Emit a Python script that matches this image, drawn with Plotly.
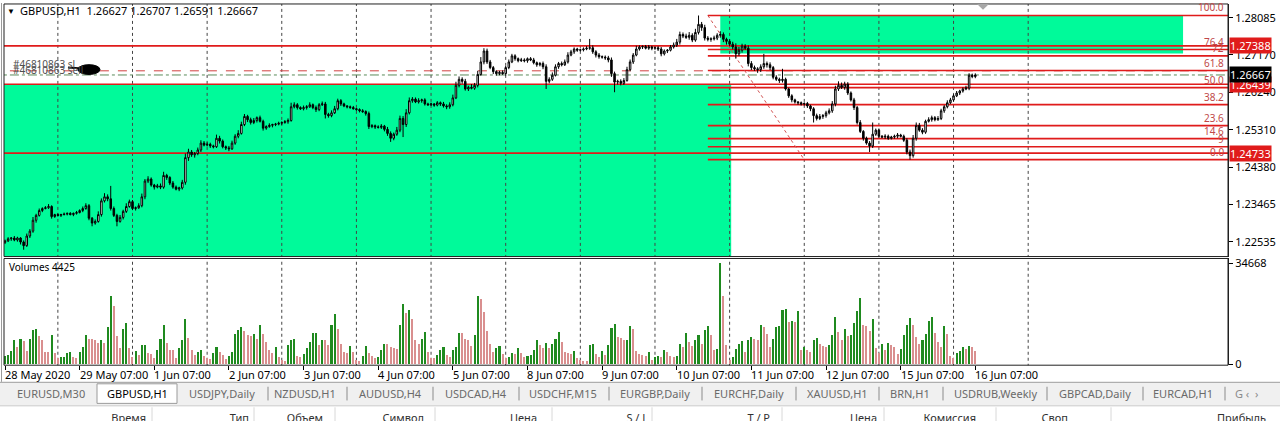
import plotly.graph_objects as go

W, H = 1280, 427
FONT = "Noto Sans"

# ---------------- data ----------------
symbol_header = "GBPUSD,H1  1.26627 1.26707 1.26591 1.26667"
first_open = 1.2252

closes = [
    # 28 May (07:00-23:00)
    1.2256, 1.2261, 1.2263, 1.2258, 1.2263, 1.2253, 1.2244, 1.2268, 1.2280, 1.2307, 1.2319, 1.2331, 1.2336, 1.2338, 1.2341, 1.2316, 1.2321,
    # 29 May
    1.2319, 1.2321, 1.2322, 1.2324, 1.2321, 1.2324, 1.2326, 1.2331, 1.2336, 1.2343, 1.2312, 1.2300, 1.2304, 1.2321, 1.2355, 1.2365, 1.2360, 1.2336, 1.2319, 1.2304, 1.2314, 1.2329, 1.2341, 1.2353,
    # 1 Jun
    1.2336, 1.2338, 1.2343, 1.2365, 1.2404, 1.2409, 1.2394, 1.2389, 1.2392, 1.2389, 1.2418, 1.2413, 1.2399, 1.2389, 1.2384, 1.2387, 1.2401, 1.2462, 1.2476, 1.2469, 1.2472, 1.2481, 1.2498, 1.2493,
    # 2 Jun
    1.2495, 1.2491, 1.2489, 1.2510, 1.2503, 1.2489, 1.2486, 1.2484, 1.2498, 1.2515, 1.2522, 1.2544, 1.2564, 1.2556, 1.2549, 1.2554, 1.2561, 1.2552, 1.2535, 1.2539, 1.2542, 1.2544, 1.2545, 1.2547,
    # 3 Jun
    1.2549, 1.2551, 1.2554, 1.2588, 1.2593, 1.2586, 1.2583, 1.2586, 1.2588, 1.2593, 1.2586, 1.2581, 1.2593, 1.2595, 1.2569, 1.2566, 1.2573, 1.2583, 1.2603, 1.2595, 1.2590, 1.2588, 1.2586, 1.2583,
    # 4 Jun
    1.2581, 1.2578, 1.2576, 1.2571, 1.2539, 1.2541, 1.2538, 1.2537, 1.2540, 1.2532, 1.2522, 1.2510, 1.2520, 1.2530, 1.2559, 1.2544, 1.2573, 1.2603, 1.2607, 1.2600, 1.2603, 1.2605, 1.2595, 1.2593,
    # 5 Jun
    1.2595, 1.2592, 1.2598, 1.2595, 1.2590, 1.2588, 1.2593, 1.2610, 1.2641, 1.2656, 1.2651, 1.2632, 1.2636, 1.2634, 1.2641, 1.2668, 1.2699, 1.2726, 1.2699, 1.2685, 1.2675, 1.2670, 1.2673, 1.2670,
    # 8 Jun
    1.2685, 1.2699, 1.2714, 1.2707, 1.2702, 1.2704, 1.2702, 1.2707, 1.2704, 1.2697, 1.2692, 1.2695, 1.2687, 1.2651, 1.2656, 1.2666, 1.2687, 1.2695, 1.2692, 1.2699, 1.2716, 1.2724, 1.2731, 1.2728,
    # 9 Jun
    1.2729, 1.2731, 1.2733, 1.2734, 1.2724, 1.2716, 1.2712, 1.2711, 1.2709, 1.2704, 1.2670, 1.2649, 1.2651, 1.2646, 1.2653, 1.2680, 1.2699, 1.2716, 1.2731, 1.2736, 1.2737, 1.2733, 1.2736, 1.2733,
    # 10 Jun
    1.2734, 1.2731, 1.2719, 1.2726, 1.2728, 1.2736, 1.2741, 1.2748, 1.2767, 1.2763, 1.2760, 1.2765, 1.2753, 1.2772, 1.2792, 1.2784, 1.2758, 1.2755, 1.2756, 1.2758, 1.2765, 1.2767, 1.2755, 1.2750,
    # 11 Jun
    1.2743, 1.2736, 1.2719, 1.2728, 1.2738, 1.2733, 1.2695, 1.2685, 1.2682, 1.2680, 1.2687, 1.2695, 1.2692, 1.2685, 1.2661, 1.2656, 1.2653, 1.2656, 1.2632, 1.2615, 1.2605, 1.2600, 1.2598, 1.2595,
    # 12 Jun
    1.2596, 1.2590, 1.2583, 1.2566, 1.2559, 1.2564, 1.2566, 1.2573, 1.2578, 1.2595, 1.2632, 1.2641, 1.2636, 1.2644, 1.2622, 1.2605, 1.2586, 1.2549, 1.2527, 1.2510, 1.2498, 1.2491, 1.2520, 1.2530,
    # 15 Jun
    1.2515, 1.2513, 1.2515, 1.2510, 1.2513, 1.2515, 1.2518, 1.2515, 1.2505, 1.2476, 1.2467, 1.2510, 1.2542, 1.2530, 1.2525, 1.2552, 1.2556, 1.2561, 1.2556, 1.2559, 1.2578, 1.2588, 1.2598, 1.2605,
    # 16 Jun (00:00-07:00)
    1.2615, 1.2622, 1.2627, 1.2632, 1.2634, 1.2666, 1.26627, 1.26667,
]

# upper / lower shadow lengths in pips
wick_up = [
    3, 4, 2, 5, 3, 2, 4, 6, 5, 8, 4, 5, 3, 4, 6, 3, 2,
    3, 2, 4, 2, 3, 2, 4, 3, 5, 6, 4, 3, 5, 8, 6, 9, 6, 32, 5, 4, 6, 4, 8, 5,
    4, 3, 6, 8, 5, 7, 4, 3, 5, 6, 9, 4, 3, 5, 4, 3, 6, 10, 8, 5, 4, 6, 7, 5,
    5, 4, 3, 9, 6, 4, 3, 5, 6, 5, 8, 7, 6, 4, 5, 6, 3, 5, 4, 3, 5, 2, 3, 4,
    3, 4, 5, 10, 6, 4, 3, 5, 4, 6, 3, 5, 4, 6, 5, 4, 6, 7, 5, 4, 3, 2, 3, 4,
    2, 3, 4, 3, 5, 4, 3, 4, 5, 3, 6, 5, 4, 8, 7, 6, 9, 8, 5, 4, 6, 3, 4, 3,
    3, 2, 4, 3, 5, 4, 6, 8, 9, 7, 5, 6, 4, 8, 6, 9, 12, 7, 6, 5, 4, 3, 4, 5,
    4, 6, 5, 4, 3, 5, 4, 3, 4, 5, 3, 4, 5, 6, 5, 7, 6, 4, 5, 6, 7, 5, 4, 3,
    3, 4, 5, 22, 6, 4, 5, 3, 4, 5, 6, 5, 4, 5, 6, 7, 6, 5, 8, 4, 3, 4, 5, 3,
    3, 4, 5, 4, 3, 5, 6, 8, 7, 5, 6, 8, 5, 9, 22, 6, 7, 5, 4, 6, 5, 8, 5, 4,
    5, 6, 9, 8, 6, 5, 7, 6, 5, 4, 6, 24, 5, 6, 4, 5, 4, 26, 4, 3, 4, 3, 2, 3,
    3, 4, 3, 4, 5, 6, 4, 5, 6, 7, 8, 10, 7, 6, 5, 4, 5, 4, 6, 3, 4, 5, 29, 4,
    4, 3, 5, 4, 3, 4, 5, 3, 4, 5, 6, 8, 7, 6, 5, 4, 6, 5, 4, 6, 5, 4, 6, 5,
    4, 5, 3, 4, 6, 5, 4, 4,
]
wick_dn = [
    4, 3, 5, 3, 4, 6, 10, 3, 5, 4, 6, 3, 4, 2, 3, 5, 3,
    3, 4, 2, 3, 2, 4, 3, 2, 4, 3, 5, 8, 4, 3, 5, 4, 6, 5, 4, 12, 3, 5, 4, 3,
    4, 5, 3, 4, 6, 5, 4, 6, 3, 5, 4, 6, 5, 4, 3, 5, 4, 6, 8, 5, 7, 4, 5, 3,
    3, 5, 4, 3, 6, 4, 5, 6, 3, 4, 5, 3, 4, 6, 5, 4, 5, 3, 6, 4, 3, 5, 4, 3,
    4, 3, 5, 3, 4, 5, 3, 4, 5, 3, 4, 6, 4, 3, 10, 5, 4, 3, 4, 5, 3, 4, 3, 2,
    3, 4, 3, 5, 6, 4, 5, 3, 4, 5, 6, 9, 5, 4, 5, 31, 6, 4, 5, 3, 4, 5, 4, 3,
    3, 4, 3, 5, 4, 6, 5, 4, 3, 5, 6, 4, 5, 3, 4, 5, 3, 6, 5, 4, 6, 5, 4, 3,
    5, 4, 3, 5, 4, 3, 4, 5, 3, 4, 5, 4, 6, 19, 5, 4, 3, 5, 4, 3, 4, 3, 5, 4,
    3, 4, 3, 4, 5, 6, 5, 4, 5, 6, 8, 25, 6, 5, 4, 3, 4, 5, 3, 4, 5, 3, 4, 5,
    4, 5, 6, 4, 5, 3, 4, 5, 6, 5, 4, 6, 5, 4, 5, 8, 6, 5, 6, 4, 5, 6, 7, 8,
    5, 6, 12, 5, 6, 4, 7, 6, 5, 8, 6, 5, 7, 6, 5, 4, 6, 5, 4, 5, 6, 4, 5, 4,
    4, 5, 6, 17, 5, 4, 6, 5, 4, 5, 6, 5, 4, 6, 5, 4, 6, 5, 4, 6, 4, 15, 5, 4,
    4, 3, 5, 4, 3, 4, 5, 3, 4, 6, 10, 5, 6, 4, 5, 4, 3, 5, 4, 3, 4, 5, 4, 3,
    4, 3, 5, 4, 3, 5, 4, 4,
]

volumes = [
    2688, 3024, 4368, 8288, 5824, 8512, 7840, 4368, 8512, 11648, 11984, 9408, 8288, 4144, 4144, 9744, 3808,
    2016, 2240, 2464, 3584, 4144, 2240, 2130, 4144, 5824, 9744, 8624, 8500, 8064, 7168, 8064, 7168, 12544, 23408, 19824, 9408, 5264, 11984, 14000, 5264,
    2240, 4368, 3024, 6384, 6608, 3584, 3360, 1904, 4704, 8400, 13440, 7168, 4704, 4600, 1904, 5264, 8064, 15344, 8960, 4704, 3024, 4144, 4704, 2688,
    1904, 1568, 3584, 5824, 4144, 3024, 1568, 2688, 4144, 10304, 11648, 12768, 11424, 9744, 9408, 10304, 8624, 13440, 10304, 7504, 4704, 3808, 5824, 2240,
    1344, 784, 6384, 8064, 8624, 2688, 2464, 3360, 5264, 7504, 10528, 10640, 6384, 8064, 8000, 6384, 13440, 17248, 11984, 6944, 4144, 3808, 6048, 4144,
    1344, 784, 2688, 6048, 3584, 2688, 1904, 2240, 4704, 6944, 6720, 5600, 5264, 5150, 13440, 20384, 17360, 18368, 15344, 8288, 6720, 8624, 10864, 4144,
    1904, 1800, 3024, 4704, 5600, 3024, 2464, 4704, 5824, 10528, 10400, 8624, 8288, 6048, 9968, 23408, 22288, 17920, 11424, 6944, 4144, 5264, 6048, 3360,
    1904, 2464, 3584, 3360, 5264, 3584, 2464, 2688, 3024, 4704, 8288, 6384, 5264, 7168, 5264, 6720, 8624, 10864, 7504, 4144, 3584, 3500, 4368, 1904,
    1120, 1100, 1080, 6384, 6944, 3360, 2240, 4368, 3024, 6384, 12320, 13664, 9184, 8960, 8064, 8288, 13104, 11984, 4480, 3360, 3024, 2688, 4144, 1344,
    2240, 2688, 2240, 4704, 4144, 2688, 2464, 2688, 6720, 5600, 10528, 7504, 6048, 8064, 9744, 6944, 11648, 13104, 9744, 4704, 4928, 34668, 23184, 6384,
    1344, 2464, 4928, 6944, 7728, 4144, 8288, 9184, 8624, 8288, 13440, 12544, 10080, 5824, 8624, 12768, 13104, 18368, 18704, 14448, 14560, 14448, 18144, 4704,
    5824, 4704, 4144, 8288, 8960, 6720, 6048, 5824, 6384, 9744, 16128, 10864, 8288, 11984, 9408, 9744, 13888, 18144, 22624, 13440, 13104, 11424, 15344, 5264,
    3584, 6720, 4704, 7168, 6384, 5824, 3360, 4928, 9744, 13440, 15680, 13440, 9184, 6720, 8288, 10304, 14784, 16128, 10528, 7504, 5600, 13104, 10080, 2688,
    1904, 3584, 4368, 5600, 4928, 6048, 5600, 4425,
]

time_tick_bars = [0, 24, 48, 72, 96, 120, 144, 168, 192, 216, 240, 264, 288, 312]
time_tick_labels = ["28 May 2020", "29 May 07:00", "1 Jun 07:00", "2 Jun 07:00", "3 Jun 07:00",
                    "4 Jun 07:00", "5 Jun 07:00", "8 Jun 07:00", "9 Jun 07:00", "10 Jun 07:00",
                    "11 Jun 07:00", "12 Jun 07:00", "15 Jun 07:00", "16 Jun 07:00"]
day_start_bars = [17, 41, 65, 89, 113, 137, 161, 185, 209, 233, 257, 281, 305, 329]

price_ticks = [1.28085, 1.27170, 1.26240, 1.25310, 1.24380, 1.23465, 1.22535]
volume_ticks = [0, 34668]

hline_levels = [1.27388, 1.26439, 1.24733]
sl_level = 1.2677
bid_price = 1.26667

fib_low, fib_high = 1.2457, 1.2814
fib_levels = [0.0, 9, 14.6, 23.6, 38.2, 50.0, 61.8, 72, 76.4, 100.0]
fib_texts = ["0.0", "9", "14.6", "23.6", "38.2", "50.0", "61.8", "72", "76.4", "100.0"]
fib_start_bar, fib_end_bar = 226, 257

rect_left = (-10, 233.5, 1.2000, 1.26439)   # x0, x1, y0, y1
rect_right = (230, 378.8, 1.2720, 1.2814)

tabs = ["EURUSD,M30", "GBPUSD,H1", "USDJPY,Daily", "NZDUSD,H1", "AUDUSD,H4", "USDCAD,H4",
        "USDCHF,M15", "EURGBP,Daily", "EURCHF,Daily", "XAUUSD,H1", "BRN,H1", "USDRUB,Weekly",
        "GBPCAD,Daily", "EURCAD,H1"]
table_columns = ["Время", "Тип", "Объем", "Символ", "Цена", "S / L", "T / P", "Цена",
                 "Комиссия", "Своп", "Прибыль"]

# ---------------- layout geometry (pixels) ----------------
assert len(closes) == len(wick_up) == len(wick_dn) == len(volumes) == 313

PANE_L, PANE_R = 4, 1228
PRICE_T, PRICE_B = 1, 259
VOL_T, VOL_B = 261, 370
X_RANGE = [-0.32, 393.25]
P_RANGE = [1.22171, 1.28425]
V_RANGE = [-337, 36351]
TABLE_T = 412


def px(x):
    return x / W


def py(y):
    return 1 - y / H


n = len(closes)
idx = list(range(n))
opens = [first_open] + closes[:-1]
highs = [max(o, c) + u * 0.0001 for o, c, u in zip(opens, closes, wick_up)]
lows = [min(o, c) - d * 0.0001 for o, c, d in zip(opens, closes, wick_dn)]

vol_up = [i == 0 or volumes[i] > volumes[i - 1] for i in idx]
g_x = [i for i in idx if vol_up[i]]
g_y = [volumes[i] for i in idx if vol_up[i]]
r_x = [i for i in idx if not vol_up[i]]
r_y = [volumes[i] for i in idx if not vol_up[i]]

fig = go.Figure()
fig.add_trace(go.Candlestick(
    x=idx, open=opens, high=highs, low=lows, close=closes,
    increasing=dict(line=dict(color="black", width=1), fillcolor="white"),
    decreasing=dict(line=dict(color="black", width=1), fillcolor="black"),
    whiskerwidth=0, showlegend=False, hoverinfo="skip", xaxis="x", yaxis="y"))
fig.add_trace(go.Bar(x=g_x, y=g_y, width=0.68, marker=dict(color="#1f8a1f", line=dict(width=0)),
                     showlegend=False, hoverinfo="skip", xaxis="x2", yaxis="y2"))
fig.add_trace(go.Bar(x=r_x, y=r_y, width=0.36, marker=dict(color="#d98f8f", line=dict(width=0)),
                     showlegend=False, hoverinfo="skip", xaxis="x2", yaxis="y2"))

# table header row (clipped at the bottom edge like the terminal window)
col_right = [146, 249, 323, 424, 537, 648, 770, 877, 976, 1068, 1266]
fig.add_trace(go.Scatter(x=col_right, y=[425] * len(col_right), text=table_columns,
                         mode="text", textposition="middle left", cliponaxis=True,
                         textfont=dict(family=FONT, size=11, color="#303030"),
                         showlegend=False, hoverinfo="skip", xaxis="x3", yaxis="y3"))

shapes = []
GREEN = "#00FA9A"
RED = "#e01b1b"
# rectangles
for (x0, x1, y0, y1) in (rect_left, rect_right):
    shapes.append(dict(type="rect", xref="x", yref="y", x0=x0, x1=x1, y0=y0, y1=y1,
                       fillcolor=GREEN, line=dict(width=0), layer="below"))
# day separators
for b in day_start_bars:
    shapes.append(dict(type="line", xref="x", yref="y", x0=b, x1=b, y0=1.0, y1=1.5,
                       line=dict(color="#444444", width=1, dash="dot"), layer="below"))
    shapes.append(dict(type="line", xref="x2", yref="y2", x0=b, x1=b, y0=-5000, y1=50000,
                       line=dict(color="#444444", width=1, dash="dot"), layer="below"))
# order lines
shapes.append(dict(type="line", xref="x", yref="y", x0=-10, x1=500, y0=sl_level, y1=sl_level,
                   line=dict(color="#d04040", width=1, dash="dash"), layer="below"))
shapes.append(dict(type="line", xref="x", yref="y", x0=-10, x1=500, y0=bid_price, y1=bid_price,
                   line=dict(color="#5a8a5a", width=1, dash="dashdot"), layer="below"))
# horizontal levels
for lv in hline_levels:
    shapes.append(dict(type="line", xref="x", yref="y", x0=-10, x1=500, y0=lv, y1=lv,
                       line=dict(color=RED, width=1.6), layer="below"))
# fibonacci
fib_prices = [fib_low + (fib_high - fib_low) * lv / 100.0 for lv in fib_levels]
for fp in fib_prices:
    shapes.append(dict(type="line", xref="x", yref="y", x0=fib_start_bar, x1=500, y0=fp, y1=fp,
                       line=dict(color=RED, width=1.6), layer="below"))
shapes.append(dict(type="line", xref="x", yref="y", x0=fib_start_bar, x1=fib_end_bar,
                   y0=fib_high, y1=fib_low, line=dict(color="#d05050", width=1, dash="dot"),
                   layer="below"))
# pane borders
for (t, b) in ((PRICE_T, PRICE_B), (VOL_T, VOL_B)):
    shapes.append(dict(type="rect", xref="paper", yref="paper", x0=px(PANE_L), x1=px(PANE_R),
                       y0=py(b), y1=py(t), line=dict(color="#202020", width=1), layer="above"))
# order scribble (redaction blob)
shapes.append(dict(type="circle", xref="paper", yref="paper", x0=px(78), x1=px(100),
                   y0=py(73), y1=py(63), fillcolor="black", line=dict(color="black", width=1)))
shapes.append(dict(type="line", xref="paper", yref="paper", x0=px(68), x1=px(82),
                   y0=py(66), y1=py(67), line=dict(color="black", width=2)))
# chart shift marker
shapes.append(dict(type="path", xref="paper", yref="paper",
                   path=f"M {px(977)} {py(1)} L {px(989)} {py(1)} L {px(983)} {py(7)} Z",
                   fillcolor="#a8a8a8", line=dict(width=0)))
# window frame line on the left
shapes.append(dict(type="line", xref="paper", yref="paper", x0=px(1.5), x1=px(1.5), y0=py(387), y1=py(0),
                   line=dict(color="#9a9a9a", width=1)))
# tab strip
shapes.append(dict(type="rect", xref="paper", yref="paper", x0=0, x1=1, y0=py(411), y1=py(387),
                   fillcolor="#f0f0f0", line=dict(width=0), layer="below"))
shapes.append(dict(type="line", xref="paper", yref="paper", x0=0, x1=1, y0=py(387.5), y1=py(387.5),
                   line=dict(color="#a0a0a0", width=1)))
shapes.append(dict(type="rect", xref="paper", yref="paper", x0=px(97), x1=px(177), y0=py(409), y1=py(389),
                   fillcolor="white", line=dict(color="#9a9a9a", width=1)))
tab_centers = [51, 137, 222, 305, 390, 476, 563, 655, 749, 837, 910, 995, 1095, 1183]
tab_seps = [268, 347, 433, 519, 609, 702, 796, 879, 943, 1047, 1143, 1225]
for s in tab_seps:
    shapes.append(dict(type="line", xref="paper", yref="paper", x0=px(s), x1=px(s), y0=py(406), y1=py(392),
                       line=dict(color="#8a8a8a", width=1)))
# table header separators
shapes.append(dict(type="line", xref="paper", yref="paper", x0=0, x1=1, y0=py(411.5), y1=py(411.5),
                   line=dict(color="#c8c8c8", width=1)))
col_seps = [152, 254, 335, 435, 552, 652, 782, 884, 996, 1111]
for s in col_seps:
    shapes.append(dict(type="line", xref="paper", yref="paper", x0=px(s), x1=px(s), y0=0, y1=py(413),
                       line=dict(color="#d8d8d8", width=1)))

annotations = []
# header
annotations.append(dict(text="▼", x=px(5), y=py(8), xref="paper", yref="paper", xanchor="left",
                        yanchor="middle", showarrow=False, font=dict(family=FONT, size=8, color="black")))
annotations.append(dict(text=symbol_header, x=px(18), y=py(8), xref="paper", yref="paper",
                        xanchor="left", yanchor="middle", showarrow=False,
                        font=dict(family=FONT, size=11, color="black")))
annotations.append(dict(text="Volumes " + str(volumes[-1]), x=px(7), y=py(270), xref="paper",
                        yref="paper", xanchor="left", yanchor="middle", showarrow=False,
                        font=dict(family=FONT, size=10, color="black")))
# order labels
annotations.append(dict(text="#46810863 sl", x=px(11), y=py(62), xref="paper", yref="paper",
                        xanchor="left", yanchor="middle", showarrow=False,
                        font=dict(family=FONT, size=10, color="#505050")))
annotations.append(dict(text="#46810863 sell", x=px(11), y=py(68), xref="paper", yref="paper",
                        xanchor="left", yanchor="middle", showarrow=False,
                        font=dict(family=FONT, size=10, color="#505050")))
# time labels
for b, t in zip(time_tick_bars, time_tick_labels):
    annotations.append(dict(text=t, x=b, y=py(380), xref="x2", yref="paper", xanchor="left",
                            yanchor="middle", xshift=-2, showarrow=False,
                            font=dict(family=FONT, size=11, color="black")))
# fib labels
for fp, ft in zip(fib_prices, fib_texts):
    annotations.append(dict(text=ft, x=px(1226), y=fp, xref="paper", yref="y", xanchor="right",
                            yanchor="bottom", showarrow=False, yshift=-1,
                            font=dict(family=FONT, size=10, color="#c04848")))
# price boxes on the axis
for lv, bg in ((1.27388, RED), (1.26439, RED), (1.24733, RED), (bid_price, "black")):
    annotations.append(dict(text=f"{lv:.5f}", x=px(1229), y=lv, xref="paper", yref="y",
                            xanchor="left", yanchor="middle", showarrow=False, bgcolor=bg,
                            borderpad=0, font=dict(family=FONT, size=11, color="white")))
# tabs
for c, t in zip(tab_centers, tabs):
    annotations.append(dict(text=t, x=px(c), y=py(399), xref="paper", yref="paper",
                            xanchor="center", yanchor="middle", showarrow=False,
                            font=dict(family=FONT, size=11,
                                      color="black" if t == "GBPUSD,H1" else "#6a6a6a")))
annotations.append(dict(text="G ‹  ›", x=px(1233), y=py(399), xref="paper", yref="paper",
                        xanchor="left", yanchor="middle", showarrow=False,
                        font=dict(family=FONT, size=11, color="#8a8a8a")))

axis_font = dict(family=FONT, size=11, color="black")
fig.update_layout(
    width=W, height=H, margin=dict(l=0, r=0, t=0, b=0),
    paper_bgcolor="white", plot_bgcolor="white", barmode="overlay", bargap=0,
    showlegend=False, shapes=shapes, annotations=annotations,
    xaxis=dict(domain=[px(PANE_L), px(PANE_R)], range=X_RANGE, anchor="y", showgrid=False,
               zeroline=False, showticklabels=False, ticks="", showline=False,
               rangeslider=dict(visible=False), fixedrange=True),
    yaxis=dict(domain=[py(PRICE_B), py(PRICE_T)], range=P_RANGE, anchor="x", side="right",
               tickvals=price_ticks, ticktext=[f"{v:.5f}" for v in price_ticks],
               ticks="outside", ticklen=4, tickcolor="black", showgrid=False, zeroline=False,
               showline=True, linecolor="#202020", linewidth=1, tickfont=axis_font, fixedrange=True),
    xaxis2=dict(domain=[px(PANE_L), px(PANE_R)], range=X_RANGE, anchor="y2", showgrid=False,
                zeroline=False, showticklabels=False, tickvals=time_tick_bars, ticks="outside",
                ticklen=4, tickcolor="black", showline=False, fixedrange=True),
    yaxis2=dict(domain=[py(VOL_B), py(VOL_T)], range=V_RANGE, anchor="x2", side="right",
                tickvals=volume_ticks, ticktext=[str(v) for v in volume_ticks], ticks="outside",
                ticklen=4, tickcolor="black", showgrid=False, zeroline=False, showline=True,
                linecolor="#202020", linewidth=1, tickfont=axis_font, fixedrange=True),
    xaxis3=dict(domain=[0, 1], range=[0, W], anchor="y3", visible=False, fixedrange=True),
    yaxis3=dict(domain=[0, py(TABLE_T)], range=[H, TABLE_T], anchor="x3", visible=False,
                fixedrange=True),
)

fig.write_html("out.html", config={"displayModeBar": False},
               post_script="document.body.style.margin='0';document.body.style.overflow='hidden';")
